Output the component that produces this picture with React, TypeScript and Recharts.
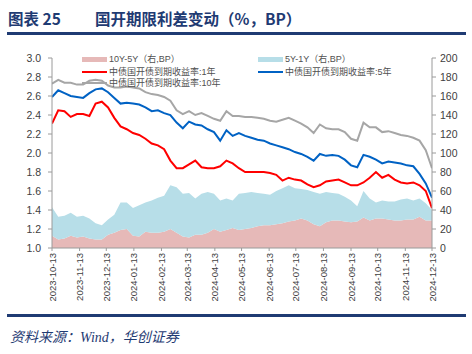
import { ComposedChart, Area, Line, XAxis, YAxis } from 'recharts';

// weekly observations (Fridays)
const dates = [
  '2023-10-13', '2023-10-20', '2023-10-27', '2023-11-03', '2023-11-10', '2023-11-17', '2023-11-24',
  '2023-12-01', '2023-12-08', '2023-12-15', '2023-12-22', '2023-12-29',
  '2024-01-05', '2024-01-12', '2024-01-19', '2024-01-26', '2024-02-02', '2024-02-09', '2024-02-16',
  '2024-02-23', '2024-03-01', '2024-03-08', '2024-03-15', '2024-03-22', '2024-03-29', '2024-04-05',
  '2024-04-12', '2024-04-19', '2024-04-26', '2024-05-03', '2024-05-10', '2024-05-17', '2024-05-24',
  '2024-05-31', '2024-06-07', '2024-06-14', '2024-06-21', '2024-06-28', '2024-07-05', '2024-07-12',
  '2024-07-19', '2024-07-26', '2024-08-02', '2024-08-09', '2024-08-16', '2024-08-23', '2024-08-30',
  '2024-09-06', '2024-09-13', '2024-09-20', '2024-09-27', '2024-10-04', '2024-10-11', '2024-10-18',
  '2024-10-25', '2024-11-01', '2024-11-08', '2024-11-15', '2024-11-22', '2024-11-29', '2024-12-06',
  '2024-12-13',
];

// 中债国开债到期收益率 (%)
const cdb1y = [
  2.31, 2.45, 2.44, 2.38, 2.41, 2.41, 2.39, 2.52, 2.54, 2.48, 2.37, 2.28,
  2.25, 2.21, 2.19, 2.15, 2.10, 2.08, 2.04, 1.92, 1.84, 1.84, 1.88, 1.92, 1.85, 1.84,
  1.84, 1.86, 1.92, 1.89, 1.84, 1.80, 1.80, 1.80, 1.80, 1.79, 1.77, 1.71, 1.74, 1.72,
  1.71, 1.67, 1.64, 1.66, 1.70, 1.71, 1.72, 1.69, 1.66, 1.66, 1.69, 1.74, 1.80, 1.74,
  1.77, 1.72, 1.69, 1.68, 1.69, 1.66, 1.60, 1.42,
];
const cdb5y = [
  2.59, 2.66, 2.63, 2.60, 2.59, 2.58, 2.63, 2.67, 2.68, 2.64, 2.58, 2.52,
  2.53, 2.52, 2.51, 2.48, 2.44, 2.45, 2.42, 2.40, 2.32, 2.26, 2.33, 2.30, 2.29, 2.25,
  2.22, 2.13, 2.24, 2.18, 2.21, 2.18, 2.16, 2.14, 2.13, 2.10, 2.08, 2.06, 2.04, 2.01,
  1.99, 1.96, 1.92, 1.99, 1.97, 1.98, 1.97, 1.93, 1.87, 1.85, 1.98, 1.96, 1.93, 1.89,
  1.91, 1.90, 1.89, 1.87, 1.86, 1.78, 1.68, 1.53,
];
const cdb10y = [
  2.73, 2.77, 2.74, 2.74, 2.72, 2.72, 2.76, 2.77, 2.76, 2.71, 2.69, 2.69,
  2.70, 2.69, 2.68, 2.64, 2.62, 2.61, 2.59, 2.55, 2.45, 2.41, 2.44, 2.40, 2.42, 2.39,
  2.36, 2.34, 2.44, 2.39, 2.39, 2.38, 2.38, 2.37, 2.36, 2.34, 2.33, 2.35, 2.37, 2.34,
  2.31, 2.27, 2.21, 2.30, 2.26, 2.25, 2.25, 2.22, 2.15, 2.13, 2.32, 2.27, 2.27, 2.22,
  2.23, 2.21, 2.19, 2.18, 2.16, 2.13, 2.03, 1.84,
];

// 期限利差 (BP, right axis, stacked)
const spread10y5y = [
  13, 9, 10, 13, 11, 12, 10, 9, 9, 14, 16, 19,
  20, 13, 12, 17, 16, 16, 17, 20, 16, 12, 11, 14, 14, 16,
  20, 17, 19, 21, 19, 20, 21, 23, 24, 24, 25, 26, 28, 29,
  31, 29, 25, 23, 27, 29, 29, 28, 27, 28, 32, 29, 31, 31,
  30, 29, 29, 30, 30, 33, 29, 29,
];
const spread5y1y = [
  30, 24, 24, 24, 22, 22, 21, 17, 15, 16, 19, 29,
  28, 29, 33, 31, 34, 37, 38, 46, 48, 45, 47, 38, 43, 43,
  37, 33, 33, 29, 38, 38, 38, 35, 33, 32, 35, 37, 38, 34,
  31, 32, 34, 34, 32, 29, 28, 26, 23, 16, 28, 23, 17, 19,
  19, 20, 22, 22, 20, 19, 18, 11,
];

const monthTicks = [
  '2023-10-13', '2023-11-13', '2023-12-13', '2024-01-13', '2024-02-13', '2024-03-13', '2024-04-13',
  '2024-05-13', '2024-06-13', '2024-07-13', '2024-08-13', '2024-09-13', '2024-10-13', '2024-11-13',
  '2024-12-13',
];
const leftTicks = [1.0, 1.2, 1.4, 1.6, 1.8, 2.0, 2.2, 2.4, 2.6, 2.8, 3.0];
const rightTicks = [0, 20, 40, 60, 80, 100, 120, 140, 160, 180, 200];

const toTime = (d: string) => Date.parse(d + 'T00:00:00Z');

const data = dates.map((d, i) => ({
  t: toTime(d),
  y1: cdb1y[i],
  y5: cdb5y[i],
  y10: cdb10y[i],
  s105: spread10y5y[i],
  s51: spread5y1y[i],
}));

const NAVY = '#1f3b73';
const RED = '#ff0000';
const BLUE = '#0062c4';
const GRAY = '#a6a6a6';
const PINK = '#e6b9b8';
const LIGHTBLUE = '#b7dee8';
const AXIS = '#9a9a9a';
const LATIN = '"Liberation Sans", Arial, sans-serif';
const MIXED = '"Liberation Sans", "Noto Sans CJK SC", sans-serif';
const CJK = '"Noto Sans CJK SC", "Liberation Sans", sans-serif';

function DateTick({ x, y, payload }: any) {
  const label = new Date(payload.value).toISOString().slice(0, 10);
  return (
    <text
      x={x}
      y={y}
      dy={3.5}
      transform={`rotate(-90, ${x}, ${y})`}
      textAnchor="end"
      fontSize={9.5}
      fontFamily={LATIN}
      fill="#404040"
    >
      {label}
    </text>
  );
}

function LegendItem({ left, top, kind, color, label }: { left: number; top: number; kind: 'area' | 'line'; color: string; label: string }) {
  return (
    <div style={{ position: 'absolute', left, top, display: 'flex', alignItems: 'center', height: 11 }}>
      <div
        style={{
          width: 25,
          height: kind === 'area' ? 5 : 2,
          background: color,
          marginRight: 2,
        }}
      />
      <span style={{ fontSize: 9, fontFamily: MIXED, color: '#505050', whiteSpace: 'nowrap', lineHeight: '11px' }}>{label}</span>
    </div>
  );
}

export default function App() {
  return (
    <div style={{ position: 'absolute', left: 0, top: 0, width: 472, height: 354, background: '#fff', overflow: 'hidden' }}>
      <div style={{ position: 'absolute', left: 8, top: 8, height: 20, display: 'flex', alignItems: 'center', color: NAVY, fontFamily: CJK, fontWeight: 700, fontSize: 15.5, whiteSpace: 'nowrap' }}>
        <span style={{ width: 87 }}>图表 25</span>
        <span>国开期限利差变动（%，BP）</span>
      </div>
      <div style={{ position: 'absolute', left: 7, top: 32, width: 459, height: 2.5, background: NAVY }} />

      <div style={{ position: 'absolute', left: 0, top: 0 }}>
        <ComposedChart width={472} height={310} data={data} margin={{ top: 58, right: 0, bottom: 0, left: 0 }}>
          <XAxis
            dataKey="t"
            type="number"
            scale="time"
            domain={[toTime(monthTicks[0]), toTime(monthTicks[monthTicks.length - 1])]}
            ticks={monthTicks.map(toTime)}
            tick={<DateTick />}
            tickSize={3}
            tickMargin={2}
            height={62}
            stroke={AXIS}
            interval={0}
            allowDataOverflow
          />
          <YAxis
            yAxisId="left"
            width={52}
            domain={[1, 3]}
            ticks={leftTicks}
            tickFormatter={(v: number) => v.toFixed(1)}
            tick={{ fontSize: 10.5, fontFamily: LATIN, fill: '#404040' }}
            tickSize={4}
            tickMargin={7}
            stroke={AXIS}
            interval={0}
          />
          <YAxis
            yAxisId="right"
            orientation="right"
            width={40}
            domain={[0, 200]}
            ticks={rightTicks}
            tick={{ fontSize: 10.5, fontFamily: LATIN, fill: '#404040', textAnchor: 'start' }}
            tickSize={4}
            tickMargin={4}
            stroke={AXIS}
            interval={0}
          />
          <Area yAxisId="right" dataKey="s105" stackId="s" type="linear" fill={PINK} fillOpacity={1} stroke="none" isAnimationActive={false} />
          <Area yAxisId="right" dataKey="s51" stackId="s" type="linear" fill={LIGHTBLUE} fillOpacity={1} stroke="none" isAnimationActive={false} />
          <Line yAxisId="left" dataKey="y10" type="linear" stroke={GRAY} strokeWidth={2} dot={false} isAnimationActive={false} />
          <Line yAxisId="left" dataKey="y5" type="linear" stroke={BLUE} strokeWidth={2} dot={false} isAnimationActive={false} />
          <Line yAxisId="left" dataKey="y1" type="linear" stroke={RED} strokeWidth={2} dot={false} isAnimationActive={false} />
        </ComposedChart>
      </div>

      <LegendItem left={82} top={53.5} kind="area" color={PINK} label="10Y-5Y（右,BP）" />
      <LegendItem left={82} top={66.5} kind="line" color={RED} label="中债国开债到期收益率:1年" />
      <LegendItem left={82} top={77.5} kind="line" color={GRAY} label="中债国开债到期收益率:10年" />
      <LegendItem left={258} top={53.5} kind="area" color={LIGHTBLUE} label="5Y-1Y（右,BP）" />
      <LegendItem left={258} top={66.5} kind="line" color={BLUE} label="中债国开债到期收益率:5年" />

      <div style={{ position: 'absolute', left: 7, top: 314, width: 459, height: 2.5, background: NAVY }} />
      <div style={{ position: 'absolute', left: 10, top: 326, fontSize: 14, fontStyle: 'italic', fontFamily: '"Liberation Serif", "Noto Sans CJK SC", serif', color: NAVY, whiteSpace: 'nowrap' }}>
        资料来源：Wind，华创证券
      </div>
    </div>
  );
}
